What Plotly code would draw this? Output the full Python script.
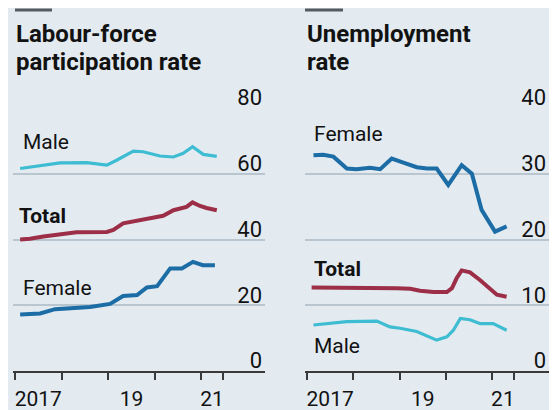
import plotly.graph_objects as go

# Labour-force participation rate, % (left panel)
lf_male_t = [2017.11, 2017.54, 2017.97, 2018.54, 2018.97, 2019.18, 2019.54, 2019.75,
             2020.11, 2020.40, 2020.61, 2020.81, 2021.04, 2021.33]
lf_male = [61.6, 62.4, 63.3, 63.4, 62.6, 64.1, 66.9, 66.7, 65.4, 65.1, 66.2, 68.2, 65.9, 65.3]

lf_total_t = [2017.11, 2017.32, 2017.61, 2017.97, 2018.32, 2018.97, 2019.11, 2019.32, 2019.61,
              2019.90, 2020.18, 2020.40, 2020.68, 2020.81, 2020.97, 2021.11, 2021.33]
lf_total = [40.0, 40.2, 40.9, 41.5, 42.2, 42.3, 42.9, 44.9, 45.6, 46.4, 47.2, 48.9, 49.9,
            51.3, 50.2, 49.6, 48.9]

lf_female_t = [2017.11, 2017.54, 2017.86, 2018.61, 2019.04, 2019.32, 2019.62, 2019.83,
               2020.05, 2020.33, 2020.58, 2020.82, 2021.03, 2021.29]
lf_female = [17.2, 17.5, 18.8, 19.5, 20.4, 22.8, 23.1, 25.4, 25.8, 31.2, 31.2, 33.2, 32.2, 32.2]

# Unemployment rate, % (right panel)
un_female_t = [2017.14, 2017.35, 2017.57, 2017.86, 2018.07, 2018.36, 2018.58, 2018.83, 2019.08,
               2019.37, 2019.59, 2019.80, 2020.05, 2020.34, 2020.56, 2020.77, 2021.06, 2021.31]
un_female = [32.8, 32.9, 32.6, 30.8, 30.7, 30.9, 30.7, 32.3, 31.7, 31.0, 30.8, 30.8, 28.3,
             31.3, 30.0, 24.5, 21.2, 22.0]

un_total_t = [2017.10, 2017.57, 2018.29, 2018.79, 2018.94, 2019.23, 2019.44, 2019.73, 2020.02,
              2020.13, 2020.23, 2020.34, 2020.52, 2020.74, 2020.92, 2021.10, 2021.31]
un_total = [12.7, 12.7, 12.7, 12.7, 12.6, 12.5, 12.2, 12.0, 12.0, 12.6, 14.1, 15.3, 15.0,
            13.8, 12.6, 11.6, 11.3]

un_male_t = [2017.14, 2017.86, 2018.51, 2018.79, 2019.01, 2019.37, 2019.80, 2020.02, 2020.16,
             2020.31, 2020.52, 2020.74, 2021.02, 2021.31]
un_male = [7.0, 7.5, 7.6, 6.7, 6.5, 6.0, 4.7, 5.2, 6.2, 8.0, 7.8, 7.2, 7.2, 6.2]

year_ticks = [2017, 2018, 2019, 2020, 2021, 2021.46]
label_pos = [2017.5, 2019.5, 2021.23]
label_text = ["2017", "19", "21"]

# page body has an 8px margin, so the figure is drawn 8px in and sized to fit
OFF = 8
W, H = 557 - OFF, 410 - OFF
BG = "#e3ebf1"
CYAN = "#3ebcd2"
RED = "#9c2f47"
BLUE = "#1c6ca6"
INK = "#121212"
FONT = "Roboto"


def fx(p):
    # screen pixel -> paper x
    return (p - OFF) / W


def fy(p):
    # screen pixel -> paper y
    return 1 - (p - OFF) / H


fig = go.Figure()
fig.add_trace(go.Scatter(x=lf_male_t, y=lf_male, line=dict(color=CYAN, width=3.2), xaxis="x", yaxis="y"))
fig.add_trace(go.Scatter(x=lf_total_t, y=lf_total, line=dict(color=RED, width=4), xaxis="x", yaxis="y"))
fig.add_trace(go.Scatter(x=lf_female_t, y=lf_female, line=dict(color=BLUE, width=4), xaxis="x", yaxis="y"))
fig.add_trace(go.Scatter(x=un_female_t, y=un_female, line=dict(color=BLUE, width=4), xaxis="x2", yaxis="y2"))
fig.add_trace(go.Scatter(x=un_total_t, y=un_total, line=dict(color=RED, width=4), xaxis="x2", yaxis="y2"))
fig.add_trace(go.Scatter(x=un_male_t, y=un_male, line=dict(color=CYAN, width=3.2), xaxis="x2", yaxis="y2"))
fig.update_traces(mode="lines", hoverinfo="skip")

xcommon = dict(
    showgrid=False, zeroline=False, showline=True, linecolor="#3a3a3a", linewidth=2,
    tickmode="array", tickvals=label_pos, ticktext=label_text,
    ticks="outside", ticklen=8, tickcolor="rgba(0,0,0,0)",
    tickfont=dict(family=FONT, size=21, color=INK),
    minor=dict(tickmode="array", tickvals=year_ticks, ticks="outside", ticklen=7,
               tickwidth=2, tickcolor="#3a3a3a"),
)
ycommon = dict(
    side="right", ticklabelposition="inside top", ticklabeloverflow="allow", ticklabelshift=5,
    showgrid=True, gridcolor="#b9c6cf", gridwidth=1.5, zeroline=False,
    ticks="", tickfont=dict(family=FONT, size=22, color=INK),
)

ybot, ytop = fy(371), fy(108)
fig.update_layout(
    width=W, height=H, margin=dict(l=0, r=0, t=0, b=0, autoexpand=False),
    paper_bgcolor=BG, plot_bgcolor=BG, showlegend=False,
    xaxis=dict(domain=[fx(13), fx(265)], range=[2016.957, 2022.365], anchor="y", **xcommon),
    yaxis=dict(domain=[ybot, ytop], range=[0, 80], tickvals=[0, 20, 40, 60, 80], anchor="x", **ycommon),
    xaxis2=dict(domain=[fx(305), fx(549)], range=[2016.957, 2022.225], anchor="y2", **xcommon),
    yaxis2=dict(domain=[ybot, ytop], range=[0, 40], tickvals=[0, 10, 20, 30, 40], anchor="x2", **ycommon),
)

# little bars above titles
for x0, x1 in [(15, 52), (305, 343)]:
    fig.add_shape(type="line", xref="paper", yref="paper", x0=fx(x0), x1=fx(x1),
                  y0=fy(10), y1=fy(10), line=dict(color="#555c61", width=3))

ann = [
    (14, 18, "<b>Labour-force</b>"),
    (14, 46, "<b>participation rate</b>"),
    (305, 18, "<b>Unemployment</b>"),
    (305, 46, "<b>rate</b>"),
]
for x, y, t in ann:
    fig.add_annotation(xref="paper", yref="paper", x=fx(x), y=fy(y), text=t, showarrow=False,
                       xanchor="left", yanchor="top", font=dict(family=FONT, size=24, color=INK))

labels = [
    (21, 128, "Male", False), (17, 202, "Total", True), (21, 274, "Female", False),
    (312, 120, "Female", False), (312, 255, "Total", True), (312, 332, "Male", False),
]
for x, y, t, b in labels:
    fig.add_annotation(xref="paper", yref="paper", x=fx(x), y=fy(y),
                       text=f"<b>{t}</b>" if b else t, showarrow=False,
                       xanchor="left", yanchor="top", font=dict(family=FONT, size=21, color=INK))

fig.write_html("out.html")
